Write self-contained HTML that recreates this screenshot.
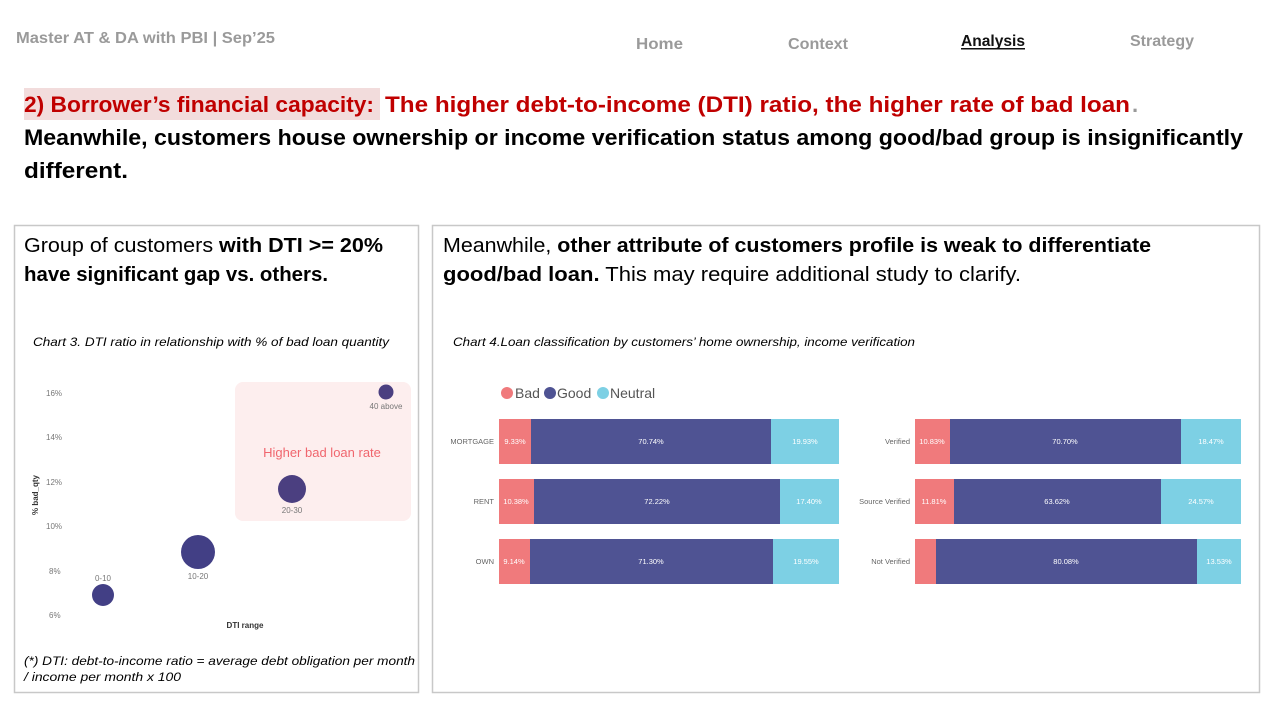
<!DOCTYPE html>
<html><head><meta charset="utf-8"><style>
html,body{margin:0;padding:0;background:#fff;}
svg{display:block;font-family:"Liberation Sans",sans-serif;}
</style></head><body>
<svg width="1272" height="711" viewBox="0 0 1272 711" xmlns="http://www.w3.org/2000/svg">
<rect width="1272" height="711" fill="#fff"/>
<!-- header -->
<text x="16" y="43" font-size="16" font-weight="bold" fill="#9a9a9a" textLength="259" lengthAdjust="spacingAndGlyphs">Master AT &amp; DA with PBI | Sep’25</text>
<text x="636" y="49" font-size="16" font-weight="bold" fill="#9a9a9a" textLength="47" lengthAdjust="spacingAndGlyphs">Home</text>
<text x="788" y="49" font-size="16" font-weight="bold" fill="#9a9a9a" textLength="60" lengthAdjust="spacingAndGlyphs">Context</text>
<text x="961" y="46" font-size="16" font-weight="bold" fill="#111" textLength="64" lengthAdjust="spacingAndGlyphs">Analysis</text>
<rect x="961" y="48" width="64" height="1.5" fill="#111"/>
<text x="1130" y="46" font-size="16" font-weight="bold" fill="#9a9a9a" textLength="64" lengthAdjust="spacingAndGlyphs">Strategy</text>
<!-- title -->
<rect x="24" y="88" width="356" height="32" fill="#f2dcdc"/>
<text x="24" y="112" font-size="22" font-weight="bold" fill="#c00000" textLength="350" lengthAdjust="spacingAndGlyphs">2) Borrower’s financial capacity:</text>
<text x="385" y="112" font-size="22" font-weight="bold" fill="#c00000" textLength="745" lengthAdjust="spacingAndGlyphs">The higher debt-to-income (DTI) ratio, the higher rate of bad loan</text>
<text x="1132" y="112" font-size="22" font-weight="bold" fill="#999">.</text>
<text x="24" y="145" font-size="22" font-weight="bold" fill="#000" textLength="1219" lengthAdjust="spacingAndGlyphs">Meanwhile, customers house ownership or income verification status among good/bad group is insignificantly</text>
<text x="24" y="178" font-size="22" font-weight="bold" fill="#000" textLength="104" lengthAdjust="spacingAndGlyphs">different.</text>
<!-- panels -->
<rect x="14.5" y="225.5" width="404" height="467" fill="none" stroke="#c8c8c8" stroke-width="1.5"/>
<rect x="432.5" y="225.5" width="827" height="467" fill="none" stroke="#c8c8c8" stroke-width="1.5"/>
<text x="24" y="252" font-size="20" fill="#000" textLength="359" lengthAdjust="spacingAndGlyphs">Group of customers <tspan font-weight="bold">with DTI &gt;= 20%</tspan></text>
<text x="24" y="281" font-size="20" font-weight="bold" fill="#000" textLength="304" lengthAdjust="spacingAndGlyphs">have significant gap vs. others.</text>
<text x="443" y="252" font-size="20" fill="#000" textLength="708" lengthAdjust="spacingAndGlyphs">Meanwhile, <tspan font-weight="bold">other attribute of customers profile is weak to differentiate</tspan></text>
<text x="443" y="281" font-size="20" fill="#000" textLength="578" lengthAdjust="spacingAndGlyphs"><tspan font-weight="bold">good/bad loan.</tspan> This may require additional study to clarify.</text>
<text x="33" y="346" font-size="12" font-style="italic" fill="#000" textLength="356" lengthAdjust="spacingAndGlyphs">Chart 3. DTI ratio in relationship with % of bad loan quantity</text>
<text x="453" y="346" font-size="12" font-style="italic" fill="#000" textLength="462" lengthAdjust="spacingAndGlyphs">Chart 4.Loan classification by customers’ home ownership, income verification</text>
<!-- scatter -->
<g font-size="8" fill="#777">
<text x="46" y="396">16%</text><text x="46" y="440">14%</text><text x="46" y="485">12%</text>
<text x="46" y="529">10%</text><text x="49" y="574">8%</text><text x="49" y="618">6%</text>
</g>
<text transform="translate(38,495) rotate(-90)" font-size="8" font-weight="bold" fill="#333" text-anchor="middle">% bad_qty</text>
<text x="245" y="628" font-size="8" font-weight="bold" fill="#333" text-anchor="middle">DTI range</text>
<rect x="235" y="382" width="176" height="139" rx="8" fill="#fdeeee"/>
<text x="322" y="457" font-size="13" fill="#f0666e" text-anchor="middle">Higher bad loan rate</text>
<circle cx="103" cy="595" r="11" fill="#423f85"/>
<circle cx="198" cy="552" r="17" fill="#423f85"/>
<circle cx="292" cy="489" r="14" fill="#4b3f80"/>
<circle cx="386" cy="392" r="7.5" fill="#4b3f80"/>
<g font-size="8" fill="#777" text-anchor="middle">
<text x="103" y="581">0-10</text><text x="198" y="579">10-20</text><text x="292" y="513">20-30</text><text x="386" y="409">40 above</text>
</g>
<text x="24" y="665" font-size="12" font-style="italic" fill="#000" textLength="391" lengthAdjust="spacingAndGlyphs">(*) DTI: debt-to-income ratio = average debt obligation per month</text>
<text x="24" y="681" font-size="12" font-style="italic" fill="#000" textLength="157" lengthAdjust="spacingAndGlyphs"> / income per month x 100</text>
<!-- legend -->
<circle cx="507" cy="393" r="6" fill="#f07a7c"/><text x="515" y="398" font-size="14" fill="#555">Bad</text>
<circle cx="550" cy="393" r="6" fill="#4f5393"/><text x="557" y="398" font-size="14" fill="#555">Good</text>
<circle cx="603" cy="393" r="6" fill="#7dd0e4"/><text x="610" y="398" font-size="14" fill="#555">Neutral</text>
<!-- bars left -->
<g font-size="7.5" fill="#fff" text-anchor="middle">
<rect x="499" y="419" width="32" height="45" fill="#f07a7c"/><rect x="531" y="419" width="240" height="45" fill="#4f5393"/><rect x="771" y="419" width="68" height="45" fill="#7dd0e4"/>
<text x="515" y="444">9.33%</text><text x="651" y="444">70.74%</text><text x="805" y="444">19.93%</text>
<rect x="499" y="479" width="35" height="45" fill="#f07a7c"/><rect x="534" y="479" width="246" height="45" fill="#4f5393"/><rect x="780" y="479" width="59" height="45" fill="#7dd0e4"/>
<text x="516" y="504">10.38%</text><text x="657" y="504">72.22%</text><text x="809" y="504">17.40%</text>
<rect x="499" y="539" width="31" height="45" fill="#f07a7c"/><rect x="530" y="539" width="243" height="45" fill="#4f5393"/><rect x="773" y="539" width="66" height="45" fill="#7dd0e4"/>
<text x="514" y="564">9.14%</text><text x="651" y="564">71.30%</text><text x="806" y="564">19.55%</text>
<!-- bars right -->
<rect x="915" y="419" width="35" height="45" fill="#f07a7c"/><rect x="950" y="419" width="231" height="45" fill="#4f5393"/><rect x="1181" y="419" width="60" height="45" fill="#7dd0e4"/>
<text x="932" y="444">10.83%</text><text x="1065" y="444">70.70%</text><text x="1211" y="444">18.47%</text>
<rect x="915" y="479" width="39" height="45" fill="#f07a7c"/><rect x="954" y="479" width="207" height="45" fill="#4f5393"/><rect x="1161" y="479" width="80" height="45" fill="#7dd0e4"/>
<text x="934" y="504">11.81%</text><text x="1057" y="504">63.62%</text><text x="1201" y="504">24.57%</text>
<rect x="915" y="539" width="21" height="45" fill="#f07a7c"/><rect x="936" y="539" width="261" height="45" fill="#4f5393"/><rect x="1197" y="539" width="44" height="45" fill="#7dd0e4"/>
<text x="1066" y="564">80.08%</text><text x="1219" y="564">13.53%</text>
</g>
<g font-size="7.5" fill="#666" text-anchor="end">
<text x="494" y="444">MORTGAGE</text><text x="494" y="504">RENT</text><text x="494" y="564">OWN</text>
<text x="910" y="444">Verified</text><text x="910" y="504">Source Verified</text><text x="910" y="564">Not Verified</text>
</g>
</svg>
</body></html>
